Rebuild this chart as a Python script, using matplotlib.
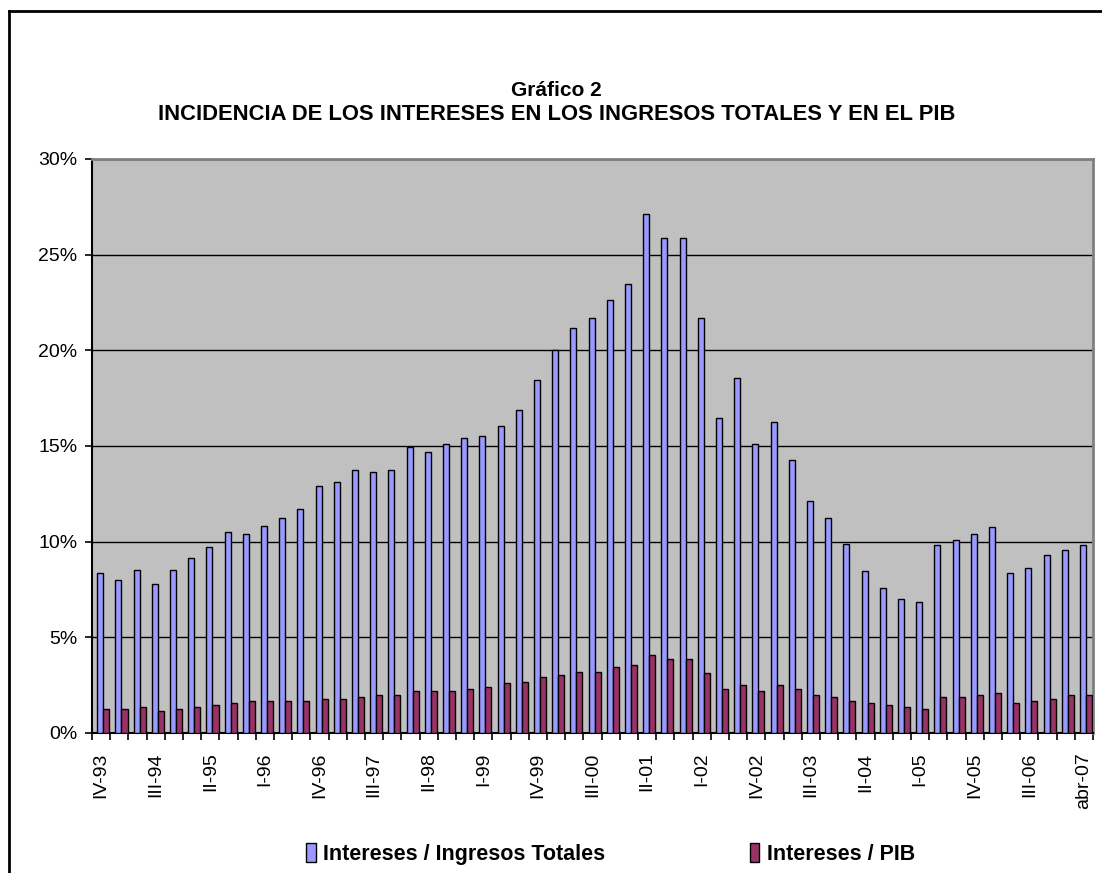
import matplotlib
matplotlib.use('Agg')
import matplotlib.pyplot as plt
import numpy as np
from matplotlib.lines import Line2D

plt.rcParams['font.family'] = ['Liberation Sans', 'DejaVu Sans']

# quarterly periods, IV-93 .. I-07 plus abr-07
periods = ['IV-93',
           'I-94', 'II-94', 'III-94', 'IV-94',
           'I-95', 'II-95', 'III-95', 'IV-95',
           'I-96', 'II-96', 'III-96', 'IV-96',
           'I-97', 'II-97', 'III-97', 'IV-97',
           'I-98', 'II-98', 'III-98', 'IV-98',
           'I-99', 'II-99', 'III-99', 'IV-99',
           'I-00', 'II-00', 'III-00', 'IV-00',
           'I-01', 'II-01', 'III-01', 'IV-01',
           'I-02', 'II-02', 'III-02', 'IV-02',
           'I-03', 'II-03', 'III-03', 'IV-03',
           'I-04', 'II-04', 'III-04', 'IV-04',
           'I-05', 'II-05', 'III-05', 'IV-05',
           'I-06', 'II-06', 'III-06', 'IV-06',
           'I-07', 'abr-07']

int_ingresos = [8.34, 8.02, 8.54, 7.80, 8.54, 9.16, 9.70, 10.52, 10.42, 10.84,
                11.26, 11.68, 12.93, 13.13, 13.75, 13.65, 13.75, 14.93, 14.69,
                15.11, 15.43, 15.53, 16.05, 16.89, 18.46, 20.02, 21.16, 21.70,
                22.63, 23.45, 27.11, 25.87, 25.87, 21.70, 16.47, 18.56, 15.11,
                16.27, 14.27, 12.10, 11.26, 9.90, 8.44, 7.60, 6.99, 6.87,
                9.80, 10.10, 10.42, 10.74, 8.34, 8.64, 9.28, 9.58, 9.80]

int_pib = [1.24, 1.24, 1.34, 1.14, 1.24, 1.34, 1.46, 1.56, 1.66, 1.66,
           1.66, 1.66, 1.76, 1.76, 1.88, 1.98, 1.98, 2.18, 2.18,
           2.18, 2.28, 2.40, 2.59, 2.69, 2.91, 3.01, 3.21, 3.21,
           3.43, 3.53, 4.05, 3.85, 3.85, 3.11, 2.28, 2.50, 2.18,
           2.50, 2.28, 1.98, 1.88, 1.66, 1.56, 1.46, 1.34, 1.24,
           1.88, 1.88, 1.98, 2.08, 1.56, 1.66, 1.76, 1.98, 1.98]

label_every = 3

fig = plt.figure(figsize=(11.02, 8.73), dpi=100)
ax = fig.add_axes([0.0835, 0.1604, 0.9083, 0.6575])

x = np.arange(len(periods))
w = 0.33
ax.bar(x - w / 2 + 0.12, np.array(int_ingresos) / 100, w, color='#9999FF',
       edgecolor='black', linewidth=1, zorder=3)
ax.bar(x + w / 2 + 0.12, np.array(int_pib) / 100, w, color='#993366',
       edgecolor='black', linewidth=1, zorder=3)

ax.set_facecolor('#C0C0C0')
ax.set_ylim(0, 0.30)
ax.set_xlim(-0.5, len(periods) - 0.5)
ax.set_yticks(np.arange(0, 0.31, 0.05))
ax.set_yticklabels([f'{int(round(v * 100))}%' for v in np.arange(0, 0.31, 0.05)])
ax.yaxis.grid(True, color='black', linewidth=1, zorder=1)

# ticks at category boundaries, labels every third period
ax.set_xticks(np.arange(-0.5, len(periods), 1.0))
ax.set_xticklabels([])
ax.set_xticks(x[::label_every], minor=True)
ax.set_xticklabels(periods[::label_every], minor=True, rotation=90)
ax.tick_params(axis='x', which='minor', length=0, pad=14, labelsize=14)
ax.tick_params(axis='x', which='major', length=5, width=1.2, direction='out')
ax.tick_params(axis='y', length=5, width=1.2, direction='out', labelsize=14, pad=5.5)

for side in ['top', 'right']:
    ax.spines[side].set_color('#808080')
    ax.spines[side].set_linewidth(2)
for side in ['left', 'bottom']:
    ax.spines[side].set_color('black')
    ax.spines[side].set_linewidth(1.5)

fig.text(0.505, 0.896, 'Gráfico 2', ha='center', va='center',
         fontsize=15, fontweight='bold')
fig.text(0.505, 0.869, 'INCIDENCIA DE LOS INTERESES EN LOS INGRESOS TOTALES Y EN EL PIB',
         ha='center', va='center', fontsize=15.8, fontweight='bold')

# outer chart frame (right and bottom edges fall outside the picture)
fig.add_artist(Line2D([9 / 1102, 9 / 1102], [0, 1 - 11 / 873], color='black',
                      linewidth=2, transform=fig.transFigure))
fig.add_artist(Line2D([9 / 1102, 1], [1 - 11 / 873, 1 - 11 / 873], color='black',
                      linewidth=2, transform=fig.transFigure))

handles = [plt.Rectangle((0, 0), 1, 1, facecolor='#9999FF', edgecolor='black'),
           plt.Rectangle((0, 0), 1, 1, facecolor='#993366', edgecolor='black')]
fig.legend(handles, ['Intereses / Ingresos Totales', 'Intereses / PIB'],
           loc='center', bbox_to_anchor=(0.554, 0.022), ncol=2, frameon=False,
           handlelength=0.45, handleheight=1.0, handletextpad=0.35,
           columnspacing=6.7, prop={'weight': 'bold', 'size': 15.5})

fig.savefig('out.png', dpi=100)
